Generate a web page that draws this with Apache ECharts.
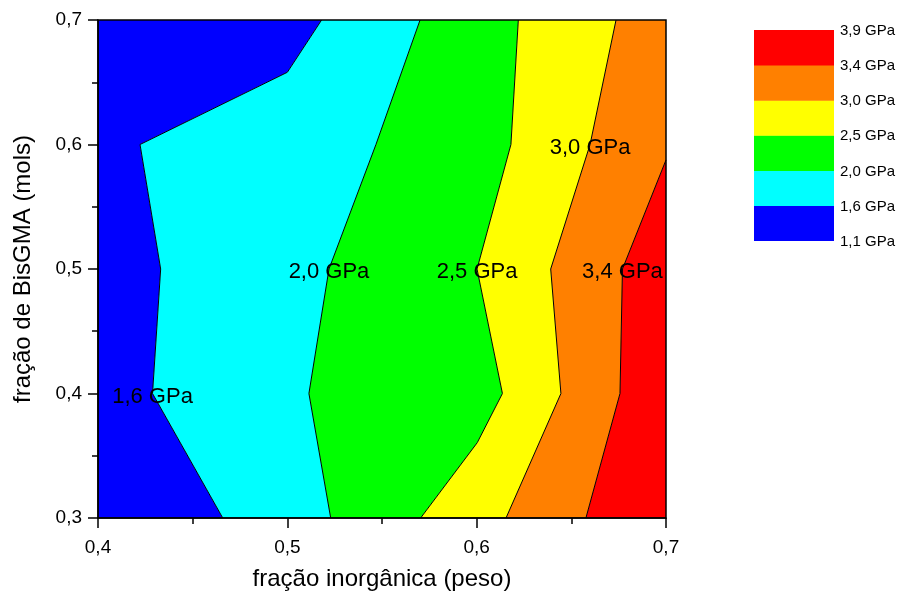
<!DOCTYPE html>
<html>
<head>
<meta charset="utf-8">
<script src="https://cdn.jsdelivr.net/npm/echarts@6/dist/echarts.min.js"></script>
<style>
html,body{margin:0;padding:0;background:#fff;}
#chart{width:900px;height:596px;}
</style>
</head>
<body>
<div id="chart"></div>
<script>
// Axis ranges and ticks
var xRange = [0.4, 0.7];
var yRange = [0.3, 0.7];
var tickStep = 0.1;

// Contour level labels (legend, low to high) and fill colours
var levelLabels = ['1,1 GPa', '1,6 GPa', '2,0 GPa', '2,5 GPa', '3,0 GPa', '3,4 GPa', '3,9 GPa'];
var bandColors = ['#0000FF', '#00FFFF', '#00FF00', '#FFFF00', '#FF8000', '#FF0000'];

// Contour boundary lines [x, y], ordered from top (or right edge) to bottom
var line16 = [[0.5181, 0.7], [0.5000, 0.658], [0.4222, 0.600], [0.4331, 0.500], [0.4288, 0.400], [0.4659, 0.3]];
var line20 = [[0.5701, 0.7], [0.5468, 0.600], [0.5220, 0.500], [0.5114, 0.400], [0.5229, 0.3]];
var line25 = [[0.6220, 0.7], [0.6181, 0.600], [0.6002, 0.500], [0.6136, 0.400], [0.6003, 0.3605], [0.5704, 0.3]];
var line30 = [[0.6736, 0.7], [0.6599, 0.600], [0.6391, 0.500], [0.6445, 0.400], [0.6155, 0.3]];
var line34 = [[0.7, 0.5876], [0.6770, 0.500], [0.6757, 0.400], [0.6577, 0.3]];

// In-plot contour labels [x, y, text]
var contourLabels = [
  [0.4288, 0.400, '1,6 GPa'],
  [0.5220, 0.500, '2,0 GPa'],
  [0.6002, 0.500, '2,5 GPa'],
  [0.6599, 0.600, '3,0 GPa'],
  [0.6770, 0.500, '3,4 GPa']
];

var leftEdge = [[xRange[0], yRange[1]], [xRange[0], yRange[0]]];
var rightEdge = [[xRange[1], yRange[1]], [xRange[1], yRange[0]]];
var boundaries = [leftEdge, line16, line20, line25, line30, line34, rightEdge];

// Build band polygons between successive boundaries
var bandPolys = [];
for (var i = 0; i < boundaries.length - 1; i++) {
  var a = boundaries[i], b = boundaries[i + 1];
  var poly = a.concat(b.slice().reverse());
  var last = poly[poly.length - 1];
  if (last[1] < yRange[1]) poly.push([xRange[1], yRange[1]]);
  bandPolys.push(poly);
}

var fmt = function (v) { return v.toFixed(1).replace('.', ','); };
var FONT = 'Liberation Sans, Arial, sans-serif';

var chart = echarts.init(document.getElementById('chart'), null, {renderer: 'canvas'});

var series = [];
series.push({
  type: 'custom',
  clip: true,
  silent: true,
  renderItem: function (params, api) {
    var idx = api.value(0);
    var pts = bandPolys[idx].map(function (p) { return api.coord(p); });
    return {
      type: 'polygon',
      shape: {points: pts},
      style: {fill: bandColors[idx], stroke: null}
    };
  },
  encode: {x: -1, y: -1},
  data: bandPolys.map(function (p, i) { return [i]; }),
  z: 1
});
[line16, line20, line25, line30, line34].forEach(function (ln) {
  series.push({
    type: 'line',
    data: ln,
    symbol: 'none',
    silent: true,
    lineStyle: {color: '#000', width: 1},
    z: 2
  });
});
series.push({
  type: 'scatter',
  data: contourLabels,
  symbolSize: 0,
  silent: true,
  itemStyle: {opacity: 1},
  label: {
    show: true,
    position: 'inside',
    offset: [0, 3],
    formatter: function (p) { return p.data[2]; },
    color: '#000',
    fontSize: 22,
    fontFamily: FONT
  },
  z: 3
});

// Legend drawn as graphic blocks built from level arrays
var legX = 754, legTop = 30, legW = 80, legH = 35.1;
var graphics = [];
var nb = bandColors.length;
for (var k = 0; k < nb; k++) {
  graphics.push({
    type: 'rect',
    left: legX, top: legTop + (nb - 1 - k) * legH,
    shape: {width: legW, height: legH + 0.5},
    style: {fill: bandColors[k]}
  });
}
for (var m = 0; m < levelLabels.length; m++) {
  graphics.push({
    type: 'text',
    x: legX + legW + 6,
    y: legTop + (levelLabels.length - 1 - m) * legH + 1,
    style: {text: levelLabels[m], fill: '#000', font: '15px ' + FONT, textVerticalAlign: 'middle', textAlign: 'left'}
  });
}

chart.setOption({
  animation: false,
  backgroundColor: '#fff',
  grid: {left: 98, top: 20, width: 568, height: 498, show: true, borderColor: '#000', borderWidth: 1.5, backgroundColor: 'transparent', z: 10},
  xAxis: {
    type: 'value', min: xRange[0], max: xRange[1], interval: tickStep,
    name: 'fração inorgânica (peso)', nameLocation: 'middle', nameGap: 49,
    nameTextStyle: {fontSize: 24, fontFamily: FONT, color: '#000'},
    axisLine: {show: true, onZero: false, lineStyle: {color: '#000', width: 1.5}},
    axisTick: {show: true, inside: false, length: 10, lineStyle: {color: '#000', width: 1.5}},
    minorTick: {show: true, splitNumber: 2, length: 6, lineStyle: {color: '#000', width: 1.5}},
    axisLabel: {formatter: fmt, fontSize: 19, fontFamily: FONT, color: '#000', margin: 20},
    splitLine: {show: false}, z: 10
  },
  yAxis: {
    type: 'value', min: yRange[0], max: yRange[1], interval: tickStep,
    name: 'fração de BisGMA (mols)', nameLocation: 'middle', nameGap: 63,
    nameTextStyle: {fontSize: 24, fontFamily: FONT, color: '#000'},
    axisLine: {show: true, onZero: false, lineStyle: {color: '#000', width: 1.5}},
    axisTick: {show: true, inside: false, length: 10, lineStyle: {color: '#000', width: 1.5}},
    minorTick: {show: true, splitNumber: 2, length: 6, lineStyle: {color: '#000', width: 1.5}},
    axisLabel: {formatter: fmt, fontSize: 19, fontFamily: FONT, color: '#000', margin: 16},
    splitLine: {show: false}, z: 10
  },
  graphic: graphics,
  series: series
});
</script>
</body>
</html>
